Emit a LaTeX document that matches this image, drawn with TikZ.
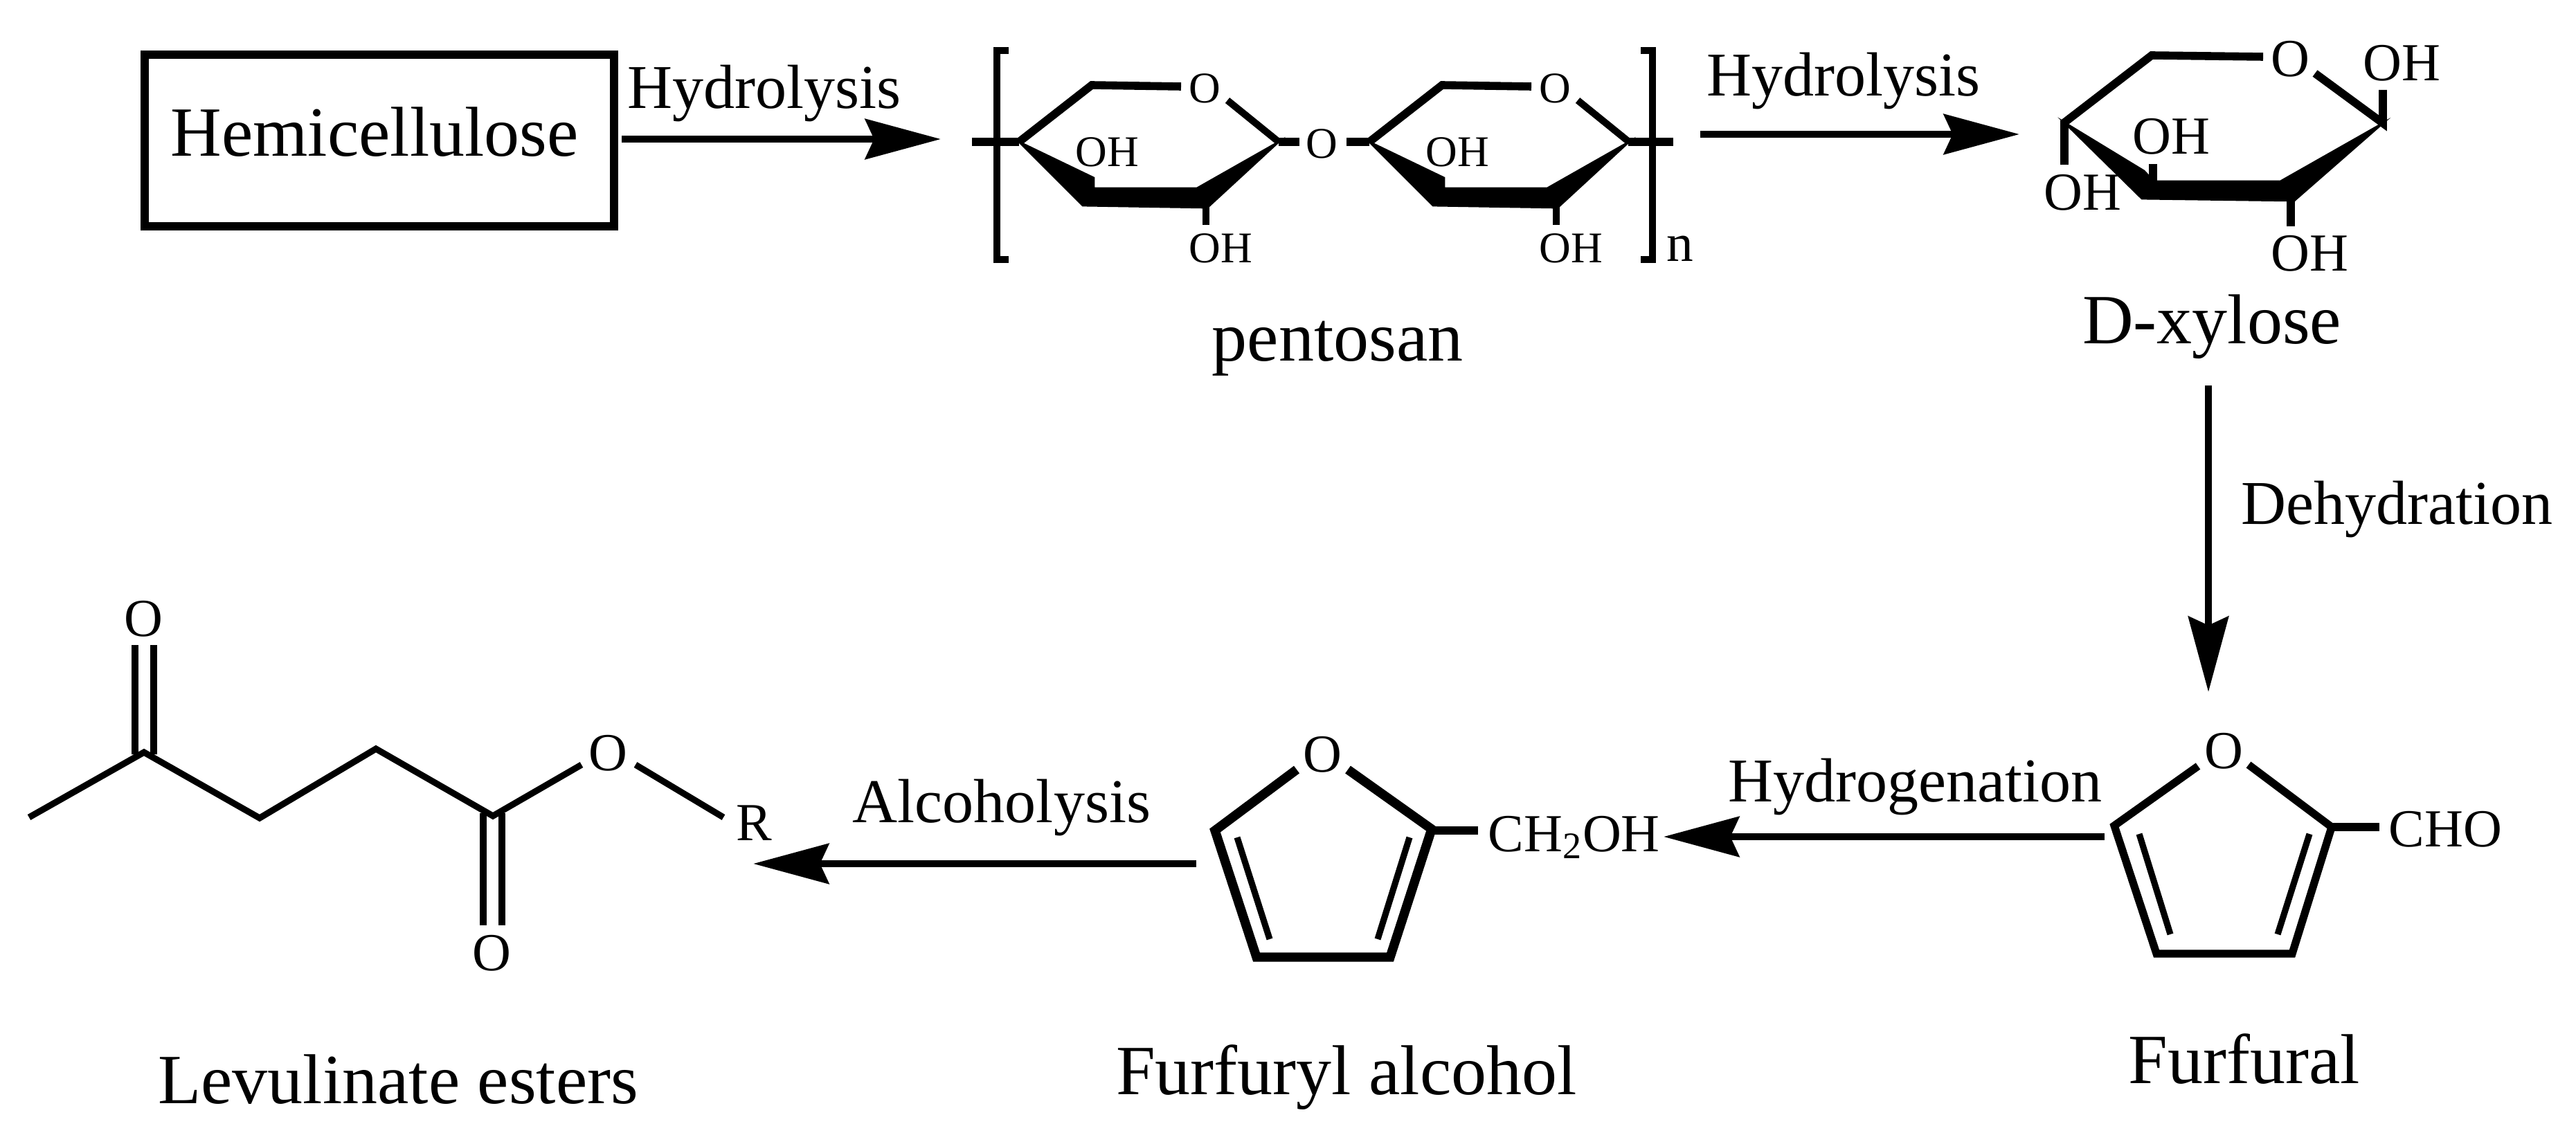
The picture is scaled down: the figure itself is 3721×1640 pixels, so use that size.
\documentclass[tikz,border=0pt]{standalone}
\usepackage{fontspec}
\setmainfont{Liberation Serif}
\usetikzlibrary{arrows.meta}
\tikzset{
  bond/.style={line width=2.85pt,line join=miter,line cap=butt},
  chainbond/.style={line width=2.6pt,line join=miter,line cap=butt},
  xylbond/.style={line width=3.3pt,line join=miter,line cap=butt},
  furalbond/.style={line width=3.2pt,line join=miter,line cap=butt},
  furylbond/.style={line width=3.8pt,line join=miter,line cap=butt},
  thinbond/.style={line width=2.6pt,line join=miter,line cap=butt},
  wedge/.style={fill=black,draw=black,line width=0.8pt,line join=miter},
  rxn/.style={line width=3.1pt,-{Stealth[length=31pt,width=16.4pt,inset=3.6pt]}},
  big/.style={inner sep=0pt,anchor=base,font=\fontsize{29}{30}\selectfont},
  mid/.style={inner sep=0pt,anchor=base,font=\fontsize{25.6}{27}\selectfont},
  atom/.style={inner sep=0pt,font=\fontsize{22}{24}\selectfont},
  atomS/.style={inner sep=0pt,font=\fontsize{18}{20}\selectfont},
  pics/pyran/.style={code={
    \draw[xylbond] (0,0) -- (105,-82) -- (234,-80);
    \draw[bond] (301,-60) -- (375,0);
    \fill[wedge] (0,0) -- (108,52) -- (108,67) -- (257,67) -- (375,0) -- (272,95) -- (92,92) -- cycle;
    \draw[bond] (270,90) -- (270,120);
    \node[atomS] (O) at (268,-77) {O};
    \node[atomS] (in) at (127,15) {OH};
    \node[atomS] (low) at (291,154) {OH};
  }}
}
\begin{document}
\begin{tikzpicture}[x=0.01cm,y=-0.01cm]
\useasboundingbox (0,0) rectangle (3721,1640);
% Hemicellulose
\node[draw,line width=3.4pt,inner sep=0pt,minimum width=678*0.2845pt,minimum height=248*0.2845pt] (hemibox) at (548,203) {};
\node[big] (hemi) at (541,226) {Hemicellulose};
\coordinate (a1s) at (898,201);
\coordinate (a1e) at (1359,201);
\draw[rxn] (a1s) -- (a1e);
\node[mid] (h1) at (1104,157) {Hydrolysis};
% pentosan
\pic (ra) at (1472,205) {pyran};
\pic (rb) at (1978,205) {pyran};
\node[atomS] (bridge) at (1909,208) {O};
\draw[xylbond] (1404,205) -- (1472,205);
\draw[xylbond] (1847,205) -- (1877,205);
\draw[xylbond] (1945,205) -- (1978,205);
\draw[xylbond] (2352,205) -- (2417,205);
\draw[line width=2.6pt,line cap=butt,line join=miter] (1457,73) -- (1440,73) -- (1440,375) -- (1457,375);
\draw[line width=2.6pt,line cap=butt,line join=miter] (2370,73) -- (2387,73) -- (2387,375) -- (2370,375);
\node[atom,anchor=base] (n) at (2427,378) {n};
\node[big] (pent) at (1932,522) {pentosan};
% arrow 2
\coordinate (a2s) at (2456,194);
\coordinate (a2e) at (2917,194);
\draw[rxn] (a2s) -- (a2e);
\node[mid] (h2) at (2663,139) {Hydrolysis};
% D-xylose
\draw[xylbond] (2982,238) -- (2982,177) -- (3108,80) -- (3269,82);
\draw[xylbond] (3344,106) -- (3442,178) -- (3442,130);
\fill[wedge] (2982,177) -- (3097,247) -- (3111,262) -- (3294,262) -- (3442,178) -- (3314,290) -- (3094,287) -- cycle;
\draw[xylbond] (3110,237) -- (3110,265);
\draw[xylbond] (3309,285) -- (3309,327);
\node[atom] (xO) at (3308,85) {O};
\node[atom] (xOH1) at (3469,91) {OH};
\node[atom] (xOH2) at (3136,197) {OH};
\node[atom] (xOH3) at (3008,278) {OH};
\node[atom] (xOH4) at (3336,366) {OH};
\node[big] (xyl) at (3195,497) {D-xylose};
% Dehydration
\coordinate (a3s) at (3190,557);
\coordinate (a3e) at (3190,1000);
\draw[rxn] (a3s) -- (a3e);
\node[mid] (dehy) at (3462,758) {Dehydration};
% Furfural
\node[atom] (fO) at (3212,1085) {O};
\draw[furalbond] (3175,1107) -- (3054,1193) -- (3115,1378) -- (3311,1378) -- (3368,1195) -- (3248,1105);
\draw[thinbond] (3090,1205) -- (3135,1350);
\draw[thinbond] (3336,1205) -- (3290,1350);
\draw[furalbond] (3368,1195) -- (3437,1195);
\node[atom,anchor=base west] (cho) at (3450,1223) {CHO};
\node[big] (ffl) at (3242,1565) {Furfural};
% Hydrogenation
\coordinate (a4s) at (3040,1209);
\coordinate (a4e) at (2403,1209);
\draw[rxn] (a4s) -- (a4e);
\node[mid] (hyd) at (2766,1158) {Hydrogenation};
% Furfuryl alcohol
\node[atom] (faO) at (1910,1090) {O};
\draw[furylbond] (1873,1112) -- (1755,1200) -- (1815,1383) -- (2008,1383) -- (2068,1198) -- (1947,1112);
\draw[thinbond] (1787,1210) -- (1834,1357);
\draw[thinbond] (2036,1210) -- (1990,1357);
\draw[furalbond] (2068,1200) -- (2135,1200);
\node[atom,anchor=base west] (ch2oh) at (2149,1230) {CH\textsubscript{2}OH};
\node[big] (fa) at (1945,1581) {Furfuryl alcohol};
% Alcoholysis
\coordinate (a5s) at (1728,1248);
\coordinate (a5e) at (1088,1248);
\draw[rxn] (a5s) -- (a5e);
\node[mid] (alc) at (1447,1188) {Alcoholysis};
% Levulinate
\draw[chainbond] (42,1181) -- (208,1087) -- (375,1182) -- (543,1082) -- (712,1179) -- (840,1105);
\draw[chainbond] (918,1105) -- (1045,1181);
\draw[chainbond] (195,932) -- (195,1090);
\draw[chainbond] (222,932) -- (222,1090);
\draw[chainbond] (698,1175) -- (698,1337);
\draw[chainbond] (725,1175) -- (725,1337);
\node[atom] (lO1) at (207,894) {O};
\node[atom] (lO2) at (878,1088) {O};
\node[atom] (lO3) at (710,1377) {O};
\node[atom] (lR) at (1089,1189) {R};
\node[big] (lev) at (575,1594) {Levulinate esters};
\end{tikzpicture}
\end{document}
